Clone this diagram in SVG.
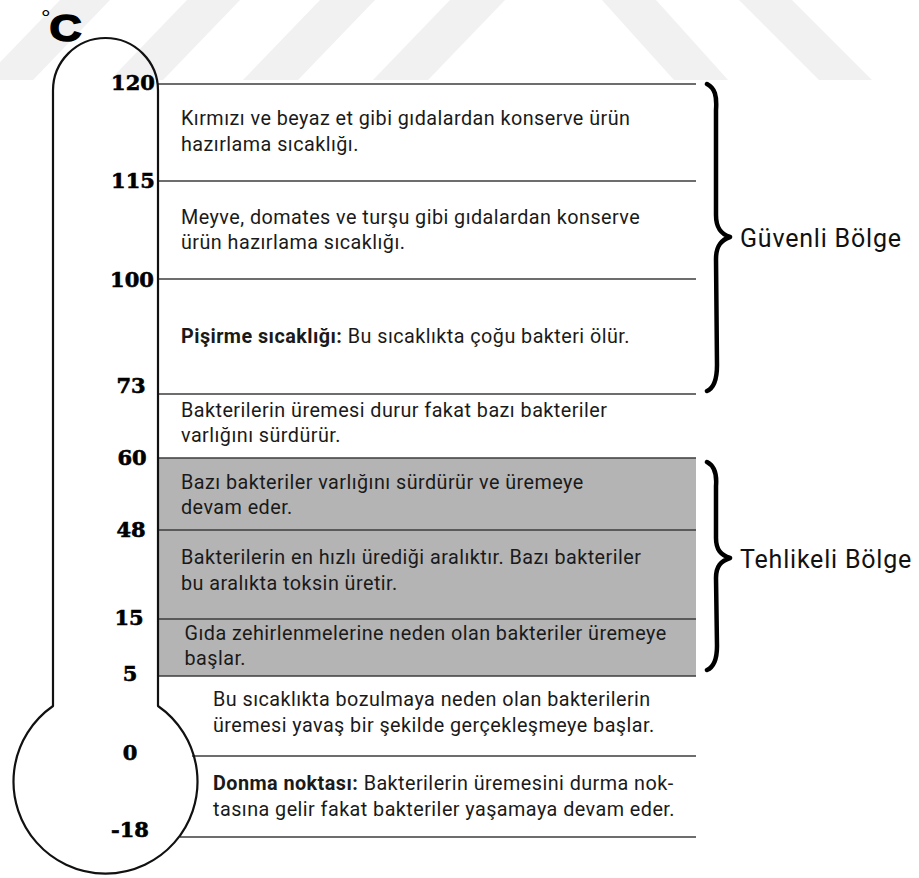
<svg xmlns="http://www.w3.org/2000/svg" width="919" height="878" viewBox="0 0 919 878">
  <style>
    .stripe { fill: #f1f1f1; }
    .rule { stroke: #3c3c3c; stroke-width: 1.6; fill: none; }
    .body { font-family: Roboto, "Liberation Sans", sans-serif; font-size: 19.8px; letter-spacing: 0.45px; fill: #1a1a1a; }
    .body .b { font-weight: bold; }
    .deg { font-family: "DejaVu Serif", "Liberation Serif", serif; font-weight: bold; font-size: 21px; fill: #000; stroke: #000; stroke-width: 0.6; text-anchor: middle; }
    .zone { font-family: Roboto, "Liberation Sans", sans-serif; font-size: 25px; letter-spacing: 0.8px; fill: #111; }
    .brace { fill: none; stroke: #000; stroke-width: 4.5; stroke-linecap: round; stroke-linejoin: round; }
  </style>

  <!-- background diagonal bands -->
  <g id="bands">
    <polygon class="stripe" points="60,0 110,0 33,80 -17,80"/>
    <polygon class="stripe" points="187,0 240,0 163,80 110,80"/>
    <polygon class="stripe" points="320,0 375,0 298,80 243,80"/>
    <polygon class="stripe" points="450,0 505,0 428,80 373,80"/>
    <polygon class="stripe" points="602,0 656,0 728,80 674,80"/>
    <polygon class="stripe" points="739,0 792,0 872,80 819,80"/>
  </g>

  <!-- danger band fill -->
  <rect id="danger-fill" x="158" y="458" width="538" height="218" fill="#b4b4b4"/>

  <!-- scale rules -->
  <g id="connectors">
    <line class="rule" x1="158" y1="84" x2="696" y2="84"/>
    <line class="rule" x1="158" y1="181" x2="696" y2="181"/>
    <line class="rule" x1="158" y1="279" x2="696" y2="279"/>
    <line class="rule" x1="158" y1="394" x2="696" y2="394"/>
    <line class="rule" x1="158" y1="458" x2="696" y2="458"/>
    <line class="rule" x1="158" y1="530" x2="696" y2="530"/>
    <line class="rule" x1="158" y1="619" x2="696" y2="619"/>
    <line class="rule" x1="158" y1="676" x2="696" y2="676"/>
    <line class="rule" x1="192" y1="756" x2="696" y2="756"/>
    <line class="rule" x1="180" y1="837" x2="696" y2="837"/>
  </g>

  <!-- thermometer -->
  <g id="thermometer">
    <path d="M53,706 L53,90.5 A52.5,52.5 0 0 1 158,90.5 L158,706 A92,92 0 1 1 53,706 Z" fill="none" stroke="#111" stroke-width="2.2" stroke-linejoin="round"/>
    <text transform="translate(41,41) scale(1.2,1)" font-family="'Liberation Sans', Arial, sans-serif" font-weight="bold" fill="#000" stroke="#000" stroke-width="1.6"><tspan font-size="20" font-weight="normal" stroke-width="0" dy="-16">°</tspan><tspan font-size="37" dx="-1" dy="16">C</tspan></text>
  </g>

  <!-- temperature marks -->
  <g id="marks">
    <text class="deg" x="133" y="90">120</text>
    <text class="deg" x="133" y="188">115</text>
    <text class="deg" x="132" y="287">100</text>
    <text class="deg" x="131" y="393">73</text>
    <text class="deg" x="132" y="465">60</text>
    <text class="deg" x="131" y="537">48</text>
    <text class="deg" x="129" y="625">15</text>
    <text class="deg" x="130" y="681">5</text>
    <text class="deg" x="130" y="760">0</text>
    <text class="deg" x="130" y="837">-18</text>
  </g>

  <!-- range descriptions -->
  <g id="range-120-115">
    <text class="body" x="181" y="125">Kırmızı ve beyaz et gibi gıdalardan konserve ürün</text>
    <text class="body" x="181" y="150.5">hazırlama sıcaklığı.</text>
  </g>
  <g id="range-115-100">
    <text class="body" x="181" y="224">Meyve, domates ve turşu gibi gıdalardan konserve</text>
    <text class="body" x="181" y="249">ürün hazırlama sıcaklığı.</text>
  </g>
  <g id="range-100-73">
    <text class="body" x="181" y="343"><tspan class="b">Pişirme sıcaklığı:</tspan> Bu sıcaklıkta çoğu bakteri ölür.</text>
  </g>
  <g id="range-73-60">
    <text class="body" x="181" y="417">Bakterilerin üremesi durur fakat bazı bakteriler</text>
    <text class="body" x="181" y="442">varlığını sürdürür.</text>
  </g>
  <g id="range-60-48">
    <text class="body" x="181" y="488.5">Bazı bakteriler varlığını sürdürür ve üremeye</text>
    <text class="body" x="181" y="514">devam eder.</text>
  </g>
  <g id="range-48-15">
    <text class="body" x="181" y="564">Bakterilerin en hızlı ürediği aralıktır. Bazı bakteriler</text>
    <text class="body" x="181" y="589.5">bu aralıkta toksin üretir.</text>
  </g>
  <g id="range-15-5">
    <text class="body" x="184.5" y="639.5">Gıda zehirlenmelerine neden olan bakteriler üremeye</text>
    <text class="body" x="184.5" y="665">başlar.</text>
  </g>
  <g id="range-5-0">
    <text class="body" x="213" y="706">Bu sıcaklıkta bozulmaya neden olan bakterilerin</text>
    <text class="body" x="213" y="731.5">üremesi yavaş bir şekilde gerçekleşmeye başlar.</text>
  </g>
  <g id="range-0-m18">
    <text class="body" x="213" y="790"><tspan class="b">Donma noktası:</tspan> Bakterilerin üremesini durma nok-</text>
    <text class="body" x="213" y="816">tasına gelir fakat bakteriler yaşamaya devam eder.</text>
  </g>

  <!-- zone braces -->
  <g id="safe-zone">
    <path class="brace" d="M707,84 C715,88 717,96 716,110 L716,215 C716,228 721,234 730,237 C721,240 716,246 716,259 L717,365 C717,380 714,388 707,391"/>
    <text class="zone" x="740" y="246.5">Güvenli Bölge</text>
  </g>
  <g id="danger-zone">
    <path class="brace" d="M707,462 C715,466 717,474 716,486 L716,538 C716,550 721,555 730,558 C721,561 716,566 716,578 L717,646 C717,660 714,667 707,670"/>
    <text class="zone" x="740" y="568">Tehlikeli Bölge</text>
  </g>
</svg>
